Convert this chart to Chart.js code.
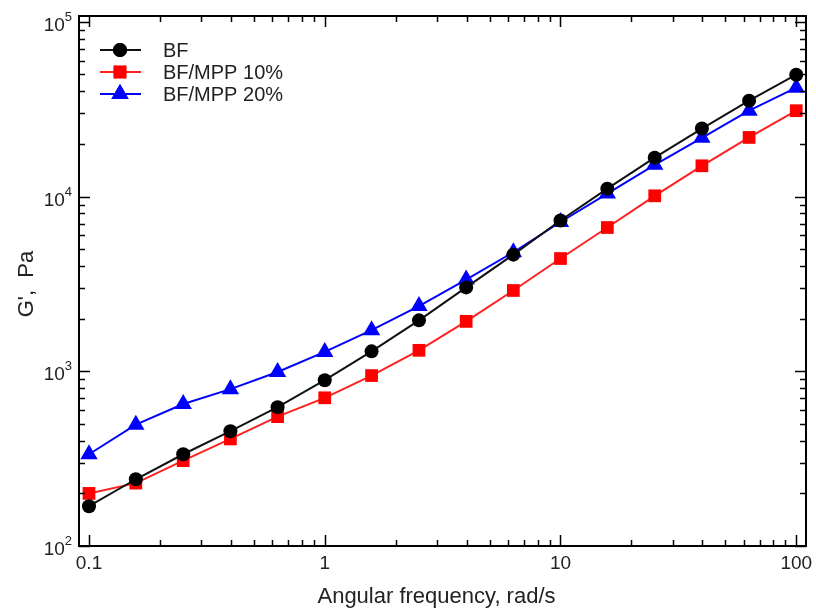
<!DOCTYPE html>
<html>
<head>
<meta charset="utf-8">
<script src="https://cdn.jsdelivr.net/npm/chart.js@4.4.0/dist/chart.umd.min.js"></script>
<style>
  html, body { margin: 0; background: #fff; }
  #wrap { width: 816px; height: 608px; }
</style>
</head>
<body>
<div id="wrap"><canvas id="chart"></canvas></div>
<script>
// ---- data ----
const freq = [0.1, 0.158, 0.251, 0.398, 0.631, 1, 1.58, 2.51, 3.98, 6.31, 10, 15.8, 25.1, 39.8, 63.1, 100];
const gBF = [169, 241, 335, 454, 623, 889, 1300, 1956, 3020, 4650, 7290, 11100, 16700, 24500, 35400, 49800];
const gMPP10 = [200, 229, 308, 410, 550, 705, 945, 1318, 1930, 2900, 4420, 6650, 10100, 15000, 21800, 31000];
const gMPP20 = [335, 495, 650, 790, 990, 1290, 1720, 2360, 3350, 4800, 7150, 10400, 15200, 21700, 31000, 42000];
const seriesNames = ['BF', 'BF/MPP 10%', 'BF/MPP 20%'];
const xTickLabels = [0.1, 1, 10, 100];
const yTickExponents = [2, 3, 4, 5];

const FONT = '"Liberation Sans", Arial, sans-serif';

function toPoints(ys) {
  return freq.map((x, i) => ({ x, y: ys[i] }));
}

// 1..9 x 10^e tick values for a log axis between lo and hi
function logTicks(lo, hi) {
  const out = [];
  for (let e = Math.floor(Math.log10(lo)); e <= Math.ceil(Math.log10(hi)); e++) {
    for (let m = 1; m <= 9; m++) {
      const v = m * Math.pow(10, e);
      if (v >= lo && v <= hi) out.push({ v, major: m === 1 });
    }
  }
  return out;
}

const framePlugin = {
  id: 'frame',
  afterDraw(chart) {
    const { ctx, chartArea: a, scales } = chart;
    const xs = scales.x, ys = scales.y;
    ctx.save();
    ctx.strokeStyle = '#000';
    ctx.lineWidth = 2;
    ctx.strokeRect(a.left, a.top, a.right - a.left, a.bottom - a.top);

    // inward ticks on all four sides
    ctx.lineWidth = 1.5;
    ctx.beginPath();
    logTicks(xs.min, xs.max).forEach(t => {
      const px = Math.round(xs.getPixelForValue(t.v)) + 0.5;
      const len = t.major ? 11 : 6;
      ctx.moveTo(px, a.bottom); ctx.lineTo(px, a.bottom - len);
      ctx.moveTo(px, a.top); ctx.lineTo(px, a.top + len);
    });
    logTicks(ys.min, ys.max).forEach(t => {
      const py = Math.round(ys.getPixelForValue(t.v)) + 0.5;
      const len = t.major ? 11 : 6;
      ctx.moveTo(a.left, py); ctx.lineTo(a.left + len, py);
      ctx.moveTo(a.right, py); ctx.lineTo(a.right - len, py);
    });
    ctx.stroke();

    // tick labels
    ctx.fillStyle = '#222';
    ctx.font = '19px ' + FONT;
    ctx.textAlign = 'center';
    ctx.textBaseline = 'alphabetic';
    xTickLabels.forEach(v => {
      ctx.fillText(String(v), xs.getPixelForValue(v), 569);
    });
    yTickExponents.forEach(e => {
      const py = ys.getPixelForValue(Math.pow(10, e));
      ctx.font = '13px ' + FONT;
      const supW = ctx.measureText(String(e)).width;
      ctx.textAlign = 'right';
      ctx.fillText(String(e), a.left - 7, py - 1);
      ctx.font = '19px ' + FONT;
      ctx.fillText('10', a.left - 7 - supW, py + 9);
    });

    // axis titles
    ctx.font = '22px ' + FONT;
    ctx.textAlign = 'center';
    ctx.fillText('Angular frequency, rad/s', (a.left + a.right) / 2 - 6, 603);
    ctx.save();
    ctx.translate(33, (a.top + a.bottom) / 2 + 3);
    ctx.rotate(-Math.PI / 2);
    ctx.fillText("G',  Pa", 0, 0);
    ctx.restore();

    // legend
    chart.data.datasets.forEach((ds, i) => {
      const yRow = 50 + i * 22;
      ctx.strokeStyle = ds.borderColor;
      ctx.lineWidth = 2;
      ctx.beginPath();
      ctx.moveTo(100, yRow); ctx.lineTo(141, yRow);
      ctx.stroke();
      ctx.fillStyle = ds.pointBackgroundColor;
      Chart.helpers.drawPoint(ctx, { pointStyle: ds.pointStyle, radius: ds.pointRadius, borderWidth: 0, rotation: 0 }, 120, yRow);
      ctx.fill();
      ctx.fillStyle = '#222';
      ctx.font = '20px ' + FONT;
      ctx.textAlign = 'left';
      ctx.fillText(ds.label, 163, yRow + 7);
    });
    ctx.restore();
  }
};

const mk = (label, ys, color, lineColor, style, r) => ({
  label,
  data: toPoints(ys),
  borderColor: lineColor,
  borderWidth: 2,
  backgroundColor: color,
  pointBackgroundColor: color,
  pointBorderColor: color,
  pointBorderWidth: 0,
  pointStyle: style,
  pointRadius: r,
  pointHoverRadius: r,
  tension: 0,
  fill: false,
});

new Chart(document.getElementById('chart'), {
  type: 'line',
  data: {
    datasets: [
      mk(seriesNames[0], gBF, '#000000', '#111111', 'circle', 7),
      mk(seriesNames[1], gMPP10, '#ff0000', '#ff2020', 'rect', 9),
      mk(seriesNames[2], gMPP20, '#0000ff', '#0000ff', 'triangle', 10),
    ],
  },
  options: {
    responsive: true,
    maintainAspectRatio: false,
    animation: false,
    events: [],
    layout: { padding: { top: 16, right: 7, left: 0, bottom: 0 } },
    plugins: { legend: { display: false }, tooltip: { enabled: false } },
    scales: {
      x: {
        type: 'logarithmic',
        min: 0.0907,
        max: 110,
        grid: { display: false },
        border: { display: false },
        ticks: { display: false },
        afterFit(s) { s.height = 62; },
      },
      y: {
        type: 'logarithmic',
        min: 100,
        max: 108000,
        grid: { display: false },
        border: { display: false },
        ticks: { display: false },
        afterFit(s) { s.width = 79; },
      },
    },
  },
  plugins: [framePlugin],
});
</script>
</body>
</html>
